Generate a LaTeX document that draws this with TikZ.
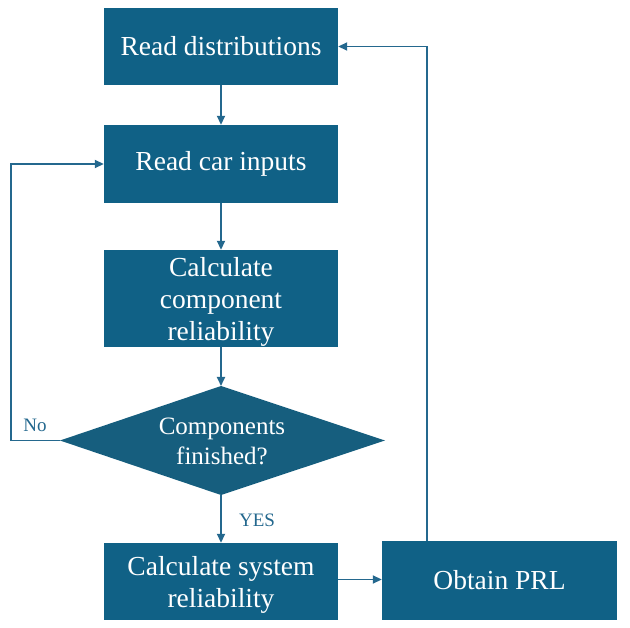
\documentclass[tikz,border=0pt]{standalone}
\usepackage{fontspec}
\setmainfont{Liberation Serif}
\usetikzlibrary{arrows.meta}
\definecolor{boxc}{RGB}{16,97,134}
\definecolor{diac}{RGB}{22,94,126}
\definecolor{linec}{RGB}{36,104,142}
\begin{document}
\begin{tikzpicture}[x=1pt,y=-1pt,
  stepbox/.style={draw=none,fill=boxc,minimum width=234pt,minimum height=77pt,inner sep=0pt},
  boxtext/.style={text=white,inner sep=0pt,align=center,font=\fontsize{27.5}{32}\selectfont},
  decide/.style={text=white,inner sep=0pt,align=center,font=\fontsize{25}{30}\selectfont},
  conn/.style={draw=linec,line width=1.8pt,-{Triangle[length=9pt,width=8pt]}},
  lbl/.style={text=linec,font=\fontsize{19}{21}\selectfont}]
\useasboundingbox (0,0) rectangle (630,628);
\node[stepbox] (rd) at (221,46.5) {};
\node[boxtext] (rdt) at (221,46.5) {Read distributions};
\node[stepbox,minimum height=78pt] (rc) at (221,164) {};
\node[boxtext] (rct) at (221,164) {Read car inputs};
\node[stepbox,minimum height=97pt] (cc) at (221,298.5) {};
\node[boxtext] (cct) at (221,302) {Calculate\\component\\reliability};
\coordinate (dn) at (221,386);
\coordinate (de) at (385,440.5);
\coordinate (ds) at (221,495);
\coordinate (dw) at (60,440.5);
\fill[diac] (dn) -- (de) -- (ds) -- (dw) -- cycle;
\node[decide] (dec) at (222,441) {Components\\finished?};
\node[stepbox] (cs) at (221,581.5) {};
\node[boxtext] (cst) at (221,584.5) {Calculate system\\reliability};
\node[stepbox,minimum width=235pt,minimum height=79pt] (op) at (499.5,580.5) {};
\node[boxtext] (opt) at (499.5,580.5) {Obtain PRL};
\coordinate (lc) at (11,440.5);
\coordinate (lt) at (11,164);
\coordinate (rc1) at (427,46.5);
\draw[conn] (rd) -- (rc);
\draw[conn] (rc) -- (cc);
\draw[conn] (cc) -- (dn);
\draw[conn] (ds) -- (cs);
\draw[conn] (cs.east |- 0,579.5) -- (op.west |- 0,579.5);
\draw[conn] (dw) -- (lc) -- (lt) -- (rc.west);
\draw[conn] (op.north -| rc1) -- (rc1) -- (rd.east);
\node[lbl] (no) at (35,425) {No};
\node[lbl] (yes) at (257,520) {YES};
\end{tikzpicture}
\end{document}
